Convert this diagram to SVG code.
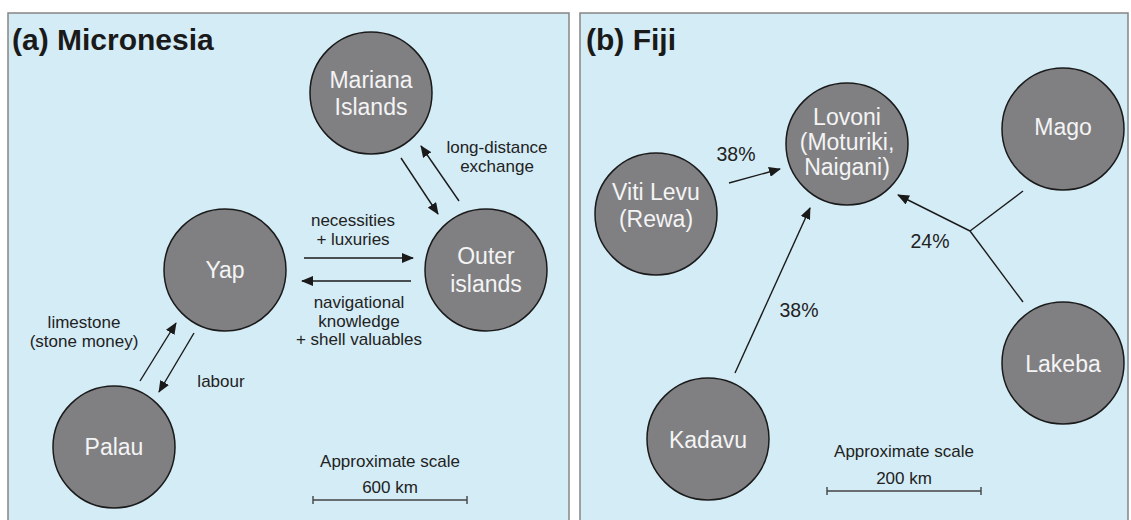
<svg xmlns="http://www.w3.org/2000/svg" width="1131" height="520" viewBox="0 0 1131 520">
<style>
.panel{fill:#d4ecf6;stroke:#858585;stroke-width:1.5}
.title{font-family:"Liberation Sans",Arial,sans-serif;font-weight:bold;font-size:30px;fill:#1a1a1a}
.node circle{fill:#808083;stroke:#1a1a1a;stroke-width:1.5}
.node text{font-family:"Liberation Sans",Arial,sans-serif;font-size:23px;fill:#f4f4f4;text-anchor:middle}
.lbl{font-family:"Liberation Sans",Arial,sans-serif;font-size:17px;fill:#222;text-anchor:middle}
.pct{font-family:"Liberation Sans",Arial,sans-serif;font-size:19.5px;fill:#222;text-anchor:middle}
.sc{font-family:"Liberation Sans",Arial,sans-serif;font-size:17px;fill:#222;text-anchor:middle}
.edge{stroke:#1a1a1a;stroke-width:1.4;fill:none}
.arr{marker-end:url(#ah)}
.bar{stroke:#444;stroke-width:1.4;fill:none}
</style>
<defs>
<marker id="ah" markerWidth="12" markerHeight="10" refX="11" refY="5" orient="auto" markerUnits="userSpaceOnUse">
<path d="M0,0 L12,5 L0,10 Z" fill="#1a1a1a"/>
</marker>
</defs>
<rect x="0" y="0" width="1131" height="520" fill="#ffffff"/>
<g id="panel-a">
<rect class="panel" x="8" y="13" width="561" height="520"/>
<text class="title" x="12" y="50">(a) Micronesia</text>
</g>
<g id="panel-b">
<rect class="panel" x="580" y="13" width="548" height="520"/>
<text class="title" x="586" y="50">(b) Fiji</text>
</g>
<g id="mariana" class="node"><circle cx="371" cy="93" r="61"/><text x="371" y="88">Mariana</text><text x="371" y="115">Islands</text></g>
<g id="yap" class="node"><circle cx="225" cy="270" r="61"/><text x="225" y="278">Yap</text></g>
<g id="outer" class="node"><circle cx="486" cy="270" r="61"/><text x="486" y="264">Outer</text><text x="486" y="292">islands</text></g>
<g id="palau" class="node"><circle cx="114" cy="447" r="61"/><text x="114" y="455">Palau</text></g>
<g id="lovoni" class="node"><circle cx="847" cy="144" r="61"/><text x="847" y="125">Lovoni</text><text x="847" y="150">(Moturiki,</text><text x="847" y="175">Naigani)</text></g>
<g id="mago" class="node"><circle cx="1063" cy="129" r="61"/><text x="1063" y="135">Mago</text></g>
<g id="vitilevu" class="node"><circle cx="656" cy="214" r="61"/><text x="656" y="200">Viti Levu</text><text x="656" y="227">(Rewa)</text></g>
<g id="lakeba" class="node"><circle cx="1063" cy="363" r="61"/><text x="1063" y="372">Lakeba</text></g>
<g id="kadavu" class="node"><circle cx="708" cy="439" r="61"/><text x="708" y="448">Kadavu</text></g>
<g id="connectors">
<line class="edge arr" x1="401" y1="158" x2="438" y2="214"/>
<line class="edge arr" x1="459" y1="201" x2="421" y2="146"/>
<line class="edge arr" x1="304" y1="258" x2="413" y2="258"/>
<line class="edge arr" x1="411" y1="281" x2="302" y2="281"/>
<line class="edge arr" x1="140" y1="381" x2="176" y2="323"/>
<line class="edge arr" x1="194" y1="333" x2="159" y2="392"/>
<line class="edge arr" x1="729" y1="183" x2="780" y2="169"/>
<line class="edge arr" x1="735" y1="373" x2="810" y2="208"/>
<line class="edge arr" x1="970" y1="231" x2="898" y2="195"/>
<line class="edge" x1="970" y1="231" x2="1023" y2="191"/>
<line class="edge" x1="970" y1="231" x2="1023" y2="302"/>
</g>
<g id="labels">
<text class="lbl" x="497" y="153">long-distance</text>
<text class="lbl" x="497" y="172">exchange</text>
<text class="lbl" x="353" y="226">necessities</text>
<text class="lbl" x="353" y="245">+ luxuries</text>
<text class="lbl" x="359" y="308">navigational</text>
<text class="lbl" x="359" y="327">knowledge</text>
<text class="lbl" x="359" y="345">+ shell valuables</text>
<text class="lbl" x="84" y="328">limestone</text>
<text class="lbl" x="84" y="347">(stone money)</text>
<text class="lbl" x="221" y="387">labour</text>
<text class="pct" x="736" y="161">38%</text>
<text class="pct" x="799" y="317">38%</text>
<text class="pct" x="930" y="248">24%</text>
</g>
<g id="scale-a">
<text class="sc" x="390" y="467">Approximate scale</text>
<text class="sc" x="390" y="493">600 km</text>
<path class="bar" d="M313,500 H467 M313,496 V504 M467,496 V504"/>
</g>
<g id="scale-b">
<text class="sc" x="904" y="457">Approximate scale</text>
<text class="sc" x="904" y="484">200 km</text>
<path class="bar" d="M827,491 H981 M827,487 V495 M981,487 V495"/>
</g>
</svg>
